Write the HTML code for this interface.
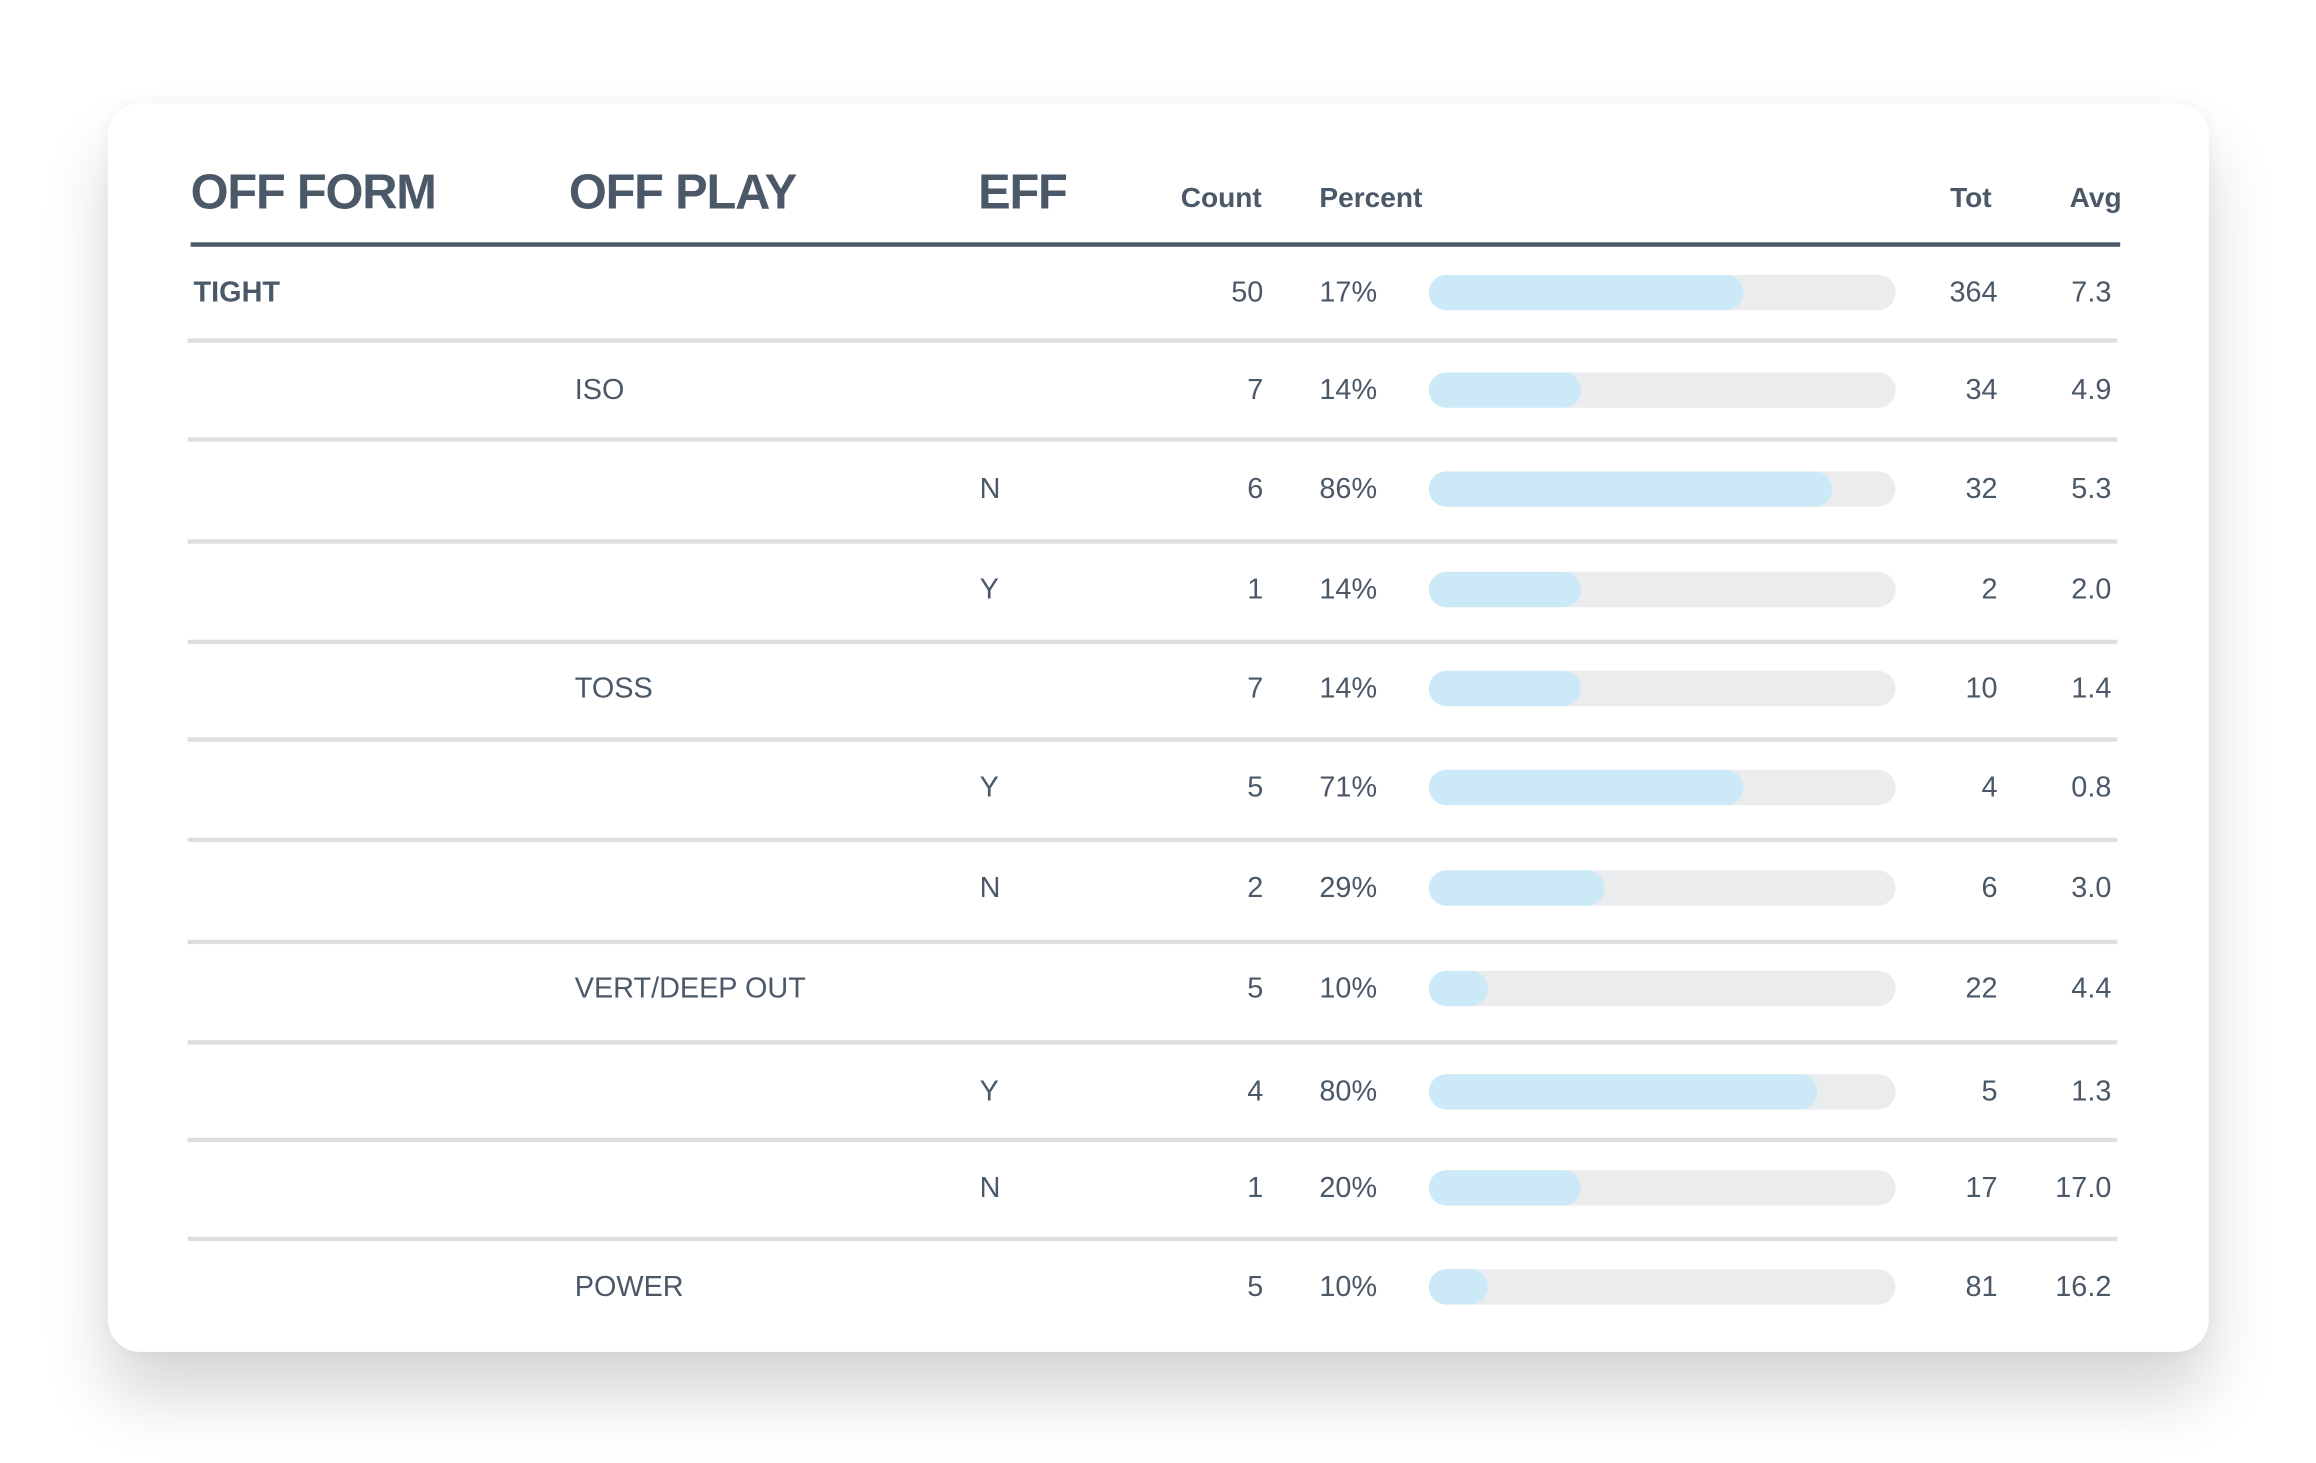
<!DOCTYPE html>
<html><head><meta charset="utf-8"><style>
html,body{margin:0;padding:0;background:#fff;width:2316px;height:1454px;overflow:hidden}
#s{position:absolute;left:0;top:0;width:1570px;height:990px;transform:scale(1.4775);transform-origin:0 0;font-family:"Liberation Sans",sans-serif;color:#4a5868}
.card{position:absolute;left:73px;top:70px;width:1422px;height:845px;background:#fff;border-radius:22px;box-shadow:0 30px 45px rgba(0,0,0,0.16),0 0 14px rgba(0,0,0,0.05)}
.t{position:absolute;white-space:nowrap;line-height:1}
.h{font-weight:bold;font-size:33px;top:113px;letter-spacing:-0.8px}
.sh{font-weight:bold;font-size:19px;top:125px}
.r{font-size:19.5px}
.sep{position:absolute;left:127px;width:1306px;height:2.5px;background:#dcdfe2}
.bar{position:absolute;left:967px;width:316px;height:24px;border-radius:12px;background:#ebecee;overflow:hidden}
.bar i{position:absolute;left:0;top:0;bottom:0;background:#cbe9f6;border-radius:12px}
</style></head><body><div id="s">
<div class="card"></div>
<div class="t h" style="left:129px">OFF FORM</div>
<div class="t h" style="left:385px">OFF PLAY</div>
<div class="t h" style="left:662px">EFF</div>
<div class="t sh" style="right:716px">Count</div>
<div class="t sh" style="left:893px">Percent</div>
<div class="t sh" style="right:222px">Tot</div>
<div class="t sh" style="right:134px">Avg</div>
<div style="position:absolute;left:129px;top:164px;width:1306px;height:3px;background:#4a5868"></div>
<div id="rows"></div>
</div>
<script>
var rows=[
[197,"TIGHT",0,"50","17%",1180,"364","7.3"],
[263,"ISO",1,"7","14%",1070,"34","4.9"],
[330,"N",2,"6","86%",1240,"32","5.3"],
[398,"Y",2,"1","14%",1070,"2","2.0"],
[465,"TOSS",1,"7","14%",1070,"10","1.4"],
[532,"Y",2,"5","71%",1180,"4","0.8"],
[600,"N",2,"2","29%",1086,"6","3.0"],
[668,"VERT/DEEP OUT",1,"5","10%",1007,"22","4.4"],
[738,"Y",2,"4","80%",1230,"5","1.3"],
[803,"N",2,"1","20%",1070,"17","17.0"],
[870,"POWER",1,"5","10%",1007,"81","16.2"]];
var seps=[229,296,365,433,499,567,636,704,770,837];
var h="";
var lx=[131,389,663];
rows.forEach(function(r){
var y=r[0]-8;
h+='<div class="t r" style="top:'+y+'px;left:'+lx[r[2]]+'px;'+(r[2]==0?'font-weight:bold;':'')+'">'+r[1]+'</div>';
h+='<div class="t r" style="top:'+y+'px;right:715px">'+r[3]+'</div>';
h+='<div class="t r" style="top:'+y+'px;left:893px">'+r[4]+'</div>';
h+='<div class="bar" style="top:'+(r[0]-11)+'px"><i style="width:'+(r[5]-967)+'px"></i></div>';
h+='<div class="t r" style="top:'+y+'px;right:218px">'+r[6]+'</div>';
h+='<div class="t r" style="top:'+y+'px;right:141px">'+r[7]+'</div>';
});
seps.forEach(function(s){h+='<div class="sep" style="top:'+s+'px"></div>';});
document.getElementById("rows").innerHTML=h;
</script>
</body></html>
